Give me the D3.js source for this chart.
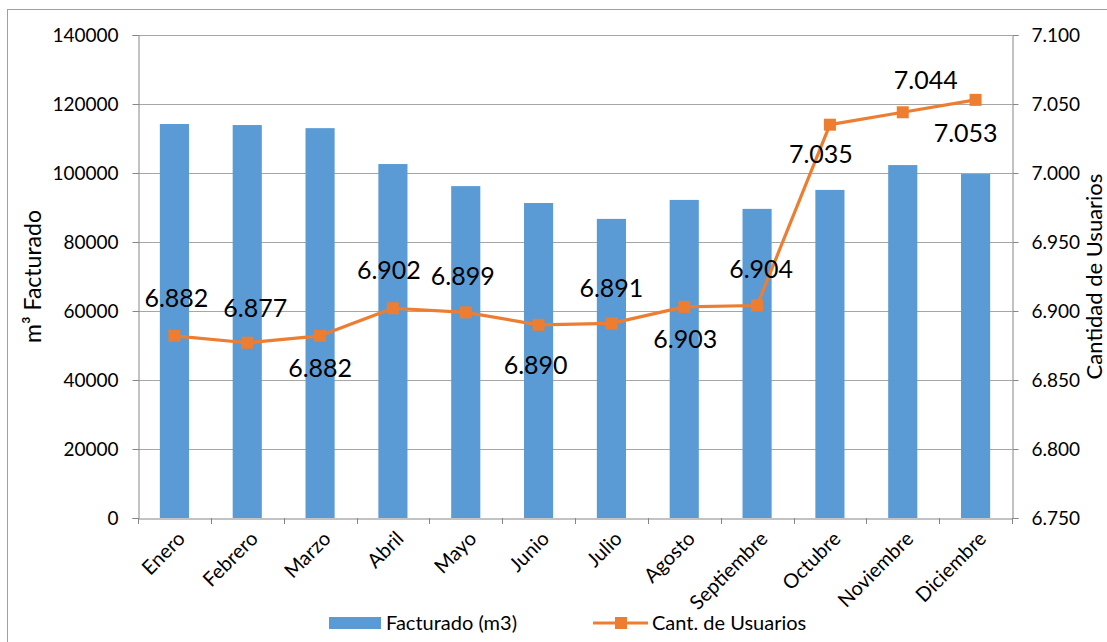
<!DOCTYPE html>
<html>
<head>
<meta charset="utf-8">
<script src="https://cdn.jsdelivr.net/npm/d3@7"></script>
<style>
  body { margin: 0; background: #fff; }
  svg text { font-family: Lato, "Open Sans", sans-serif; fill: #000; }
</style>
</head>
<body>
<div id="chart"></div>
<script>
// --- data ---
const months = ["Enero", "Febrero", "Marzo", "Abril", "Mayo", "Junio", "Julio",
  "Agosto", "Septiembre", "Octubre", "Noviembre", "Diciembre"];
const facturado = [114200, 113900, 113000, 102600, 96200, 91300, 86700, 92200, 89600, 95100, 102300, 99700];
const usuarios = [6.882, 6.877, 6.882, 6.902, 6.899, 6.890, 6.891, 6.903, 6.904, 7.035, 7.044, 7.053];
const leftTicks = [0, 20000, 40000, 60000, 80000, 100000, 120000, 140000];
const rightTicks = [6.75, 6.8, 6.85, 6.9, 6.95, 7.0, 7.05, 7.1];

// label placement for each point: [dx, dy] from the marker
const labelOffset = [[2, -38], [8, -34], [0, 32], [-4, -38], [-3, -36], [-3, 40], [0, -35],
  [1, 32], [4, -36], [-9, 30], [23, -32], [-10, 33]];

const colors = { bar: "#5B9BD5", line: "#ED7D31", grid: "#A6A6A6", axis: "#868686" };

const width = 1107, height = 642;
const margin = { left: 138, right: 1012, top: 35, bottom: 518 };

const svg = d3.select("#chart").append("svg")
  .attr("width", width).attr("height", height);

// outer chart border
svg.append("rect")
  .attr("x", 7.5).attr("y", 9.5)
  .attr("width", 1200).attr("height", 800)
  .attr("fill", "none").attr("stroke", "#A0A0A0");

const x = d3.scaleBand().domain(months).range([margin.left, margin.right]);
const yL = d3.scaleLinear().domain([0, 140000]).range([margin.bottom, margin.top]);
const yR = d3.scaleLinear().domain([6.75, 7.1]).range([margin.bottom, margin.top]);

// gridlines
svg.append("g").selectAll("line")
  .data(leftTicks.slice(1))
  .enter().append("line")
  .attr("x1", margin.left).attr("x2", margin.right)
  .attr("y1", d => Math.round(yL(d)) + 0.5).attr("y2", d => Math.round(yL(d)) + 0.5)
  .attr("stroke", colors.grid).attr("stroke-width", 1);

// bars
const barW = x.bandwidth() * 0.4;
svg.append("g").selectAll("rect")
  .data(facturado)
  .enter().append("rect")
  .attr("x", (d, i) => x(months[i]) + (x.bandwidth() - barW) / 2)
  .attr("y", d => yL(d))
  .attr("width", barW)
  .attr("height", d => yL(0) - yL(d))
  .attr("fill", colors.bar);

// left axis
const leftAxis = svg.append("g")
  .attr("transform", `translate(${margin.left + 0.5},0)`)
  .call(d3.axisLeft(yL).tickValues(leftTicks).tickSize(6).tickPadding(14).tickFormat(d3.format("d")));
leftAxis.selectAll("text").style("font-size", "19px");

// right axis
const rightAxis = svg.append("g")
  .attr("transform", `translate(${margin.right + 0.5},0)`)
  .call(d3.axisRight(yR).tickValues(rightTicks).tickSize(6).tickPadding(13)
    .tickFormat(d => d3.format(".3f")(d)));
rightAxis.selectAll("text").style("font-size", "19px");

// bottom axis
const bottomAxis = svg.append("g")
  .attr("transform", `translate(0,${margin.bottom + 0.5})`)
  .call(d3.axisBottom(x).tickSize(0).tickFormat(""));
bottomAxis.selectAll(".tick").remove();
svg.append("g").selectAll("line")
  .data(d3.range(months.length + 1))
  .enter().append("line")
  .attr("x1", i => Math.round(margin.left + i * x.step()) + 0.5)
  .attr("x2", i => Math.round(margin.left + i * x.step()) + 0.5)
  .attr("y1", margin.bottom).attr("y2", margin.bottom + 6)
  .attr("stroke", colors.axis);

[leftAxis, rightAxis, bottomAxis].forEach(a => {
  a.select(".domain").attr("stroke", colors.axis);
  a.selectAll(".tick line").attr("stroke", colors.axis);
});

// rotated month labels
svg.append("g").selectAll("text")
  .data(months)
  .enter().append("text")
  .attr("transform", d => `translate(${x(d) + x.bandwidth() / 2 + 7},${margin.bottom + 17}) rotate(-45)`)
  .attr("text-anchor", "end")
  .attr("dy", "0.35em")
  .style("font-size", "20px")
  .text(d => d);

// line + markers
const line = d3.line()
  .x((d, i) => x(months[i]) + x.bandwidth() / 2)
  .y(d => yR(d));

svg.append("path")
  .datum(usuarios)
  .attr("d", line)
  .attr("fill", "none")
  .attr("stroke", colors.line)
  .attr("stroke-width", 3.2)
  .attr("stroke-linejoin", "round");

svg.append("g").selectAll("rect")
  .data(usuarios)
  .enter().append("rect")
  .attr("x", (d, i) => x(months[i]) + x.bandwidth() / 2 - 6)
  .attr("y", d => yR(d) - 6)
  .attr("width", 12).attr("height", 12)
  .attr("fill", colors.line);

// data labels
svg.append("g").selectAll("text")
  .data(usuarios)
  .enter().append("text")
  .attr("x", (d, i) => x(months[i]) + x.bandwidth() / 2 + labelOffset[i][0])
  .attr("y", (d, i) => yR(d) + labelOffset[i][1])
  .attr("text-anchor", "middle")
  .attr("dy", "0.35em")
  .style("font-size", "25px")
  .text(d => d3.format(".3f")(d));

// axis titles
svg.append("text")
  .attr("transform", `translate(33,${(margin.top + margin.bottom) / 2}) rotate(-90)`)
  .attr("text-anchor", "middle")
  .attr("dy", "0.35em")
  .style("font-size", "23px")
  .text("m³ Facturado");

svg.append("text")
  .attr("transform", `translate(1094,${(margin.top + margin.bottom) / 2}) rotate(-90)`)
  .attr("text-anchor", "middle")
  .attr("dy", "0.35em")
  .style("font-size", "22px")
  .text("Cantidad de Usuarios");

// legend
const legend = svg.append("g");
legend.append("rect")
  .attr("x", 329).attr("y", 617).attr("width", 52).attr("height", 12)
  .attr("fill", colors.bar);
legend.append("text")
  .attr("x", 386).attr("y", 623).attr("dy", "0.35em")
  .style("font-size", "20px")
  .text("Facturado (m3)");
legend.append("line")
  .attr("x1", 593).attr("x2", 648).attr("y1", 623).attr("y2", 623)
  .attr("stroke", colors.line).attr("stroke-width", 3.2);
legend.append("rect")
  .attr("x", 615).attr("y", 617).attr("width", 12).attr("height", 12)
  .attr("fill", colors.line);
legend.append("text")
  .attr("x", 652).attr("y", 623).attr("dy", "0.35em")
  .style("font-size", "20px")
  .text("Cant. de Usuarios");
</script>
</body>
</html>
